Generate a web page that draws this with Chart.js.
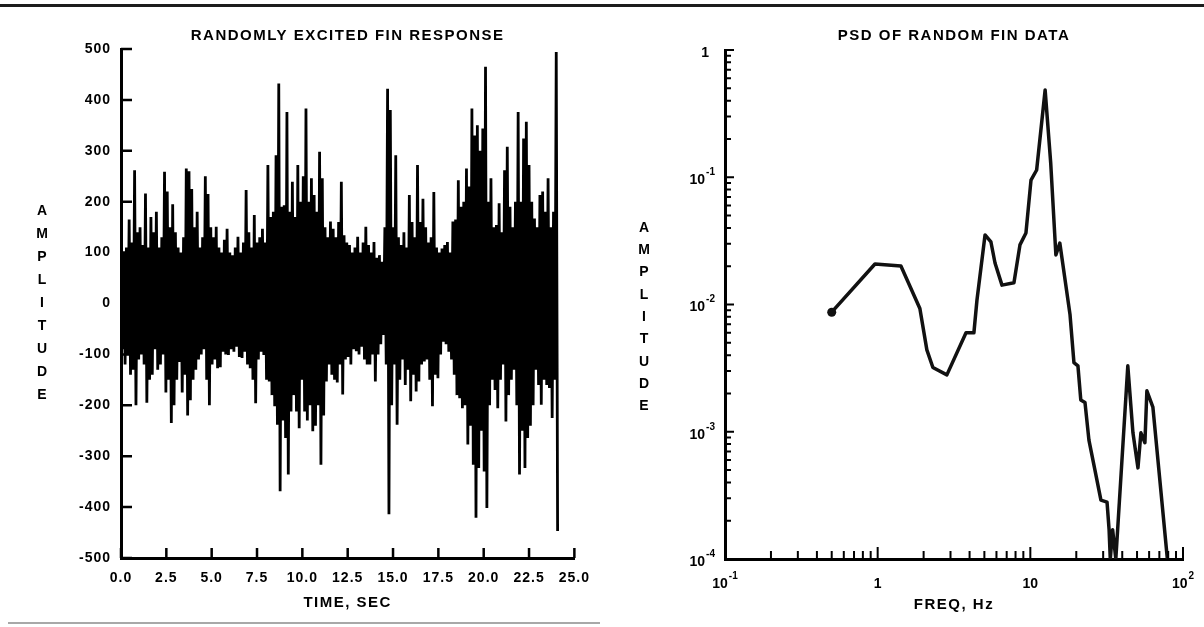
<!DOCTYPE html>
<html>
<head>
<meta charset="utf-8">
<script src="https://cdn.jsdelivr.net/npm/chart.js@4.4.1/dist/chart.umd.min.js"></script>
<style>
  html, body { margin: 0; padding: 0; background: #fff; }
  #wrap { position: relative; width: 1204px; height: 627px; overflow: hidden; }
  canvas { position: absolute; top: 0; }
  #left { left: 0; }
  #right { left: 600px; }
</style>
</head>
<body>
<div id="wrap">
  <canvas id="left" width="600" height="627"></canvas>
  <canvas id="right" width="604" height="627"></canvas>
</div>
<script>
const FONT = '"Liberation Sans", Arial, Helvetica, sans-serif';

// --- left panel: fin response, one peak / trough pair read per column of the trace ---
const respStep = 0.15; // s between read columns
const respHi = [
  180, 100, 110, 165, 120, 262, 140, 150, 115, 216, 110, 170, 140, 180, 110, 130, 259, 220, 150, 195,
  140, 110, 100, 130, 265, 260, 225, 150, 180, 110, 130, 250, 215, 150,
  130, 151, 110, 100, 125, 147, 100, 95, 110, 131, 100, 120, 223, 140, 110, 174, 120, 130, 147, 120,
  272, 170, 180, 291, 432, 190, 193, 376, 180, 239, 170, 272, 200,
  250, 383, 200, 246, 213, 180, 298, 246, 150, 130, 161, 147, 130, 160, 239, 134, 120, 115, 100, 110,
  131, 100, 120, 151, 115, 100, 121, 90, 95, 82, 150, 422, 380,
  150, 291, 130, 115, 140, 110, 213, 160, 130, 272, 160, 206, 150, 120, 130, 219, 110, 100, 108, 115,
  121, 100, 161, 165, 242, 190, 200, 265, 230, 383, 330, 350, 300,
  344, 465, 200, 246, 150, 154, 197, 140, 262, 308, 190, 150, 200, 376, 200, 324, 357, 272, 200, 167,
  150, 213, 220, 180, 246, 150, 180, 494
];
const respLo = [
  -90, -120, -100, -140, -130, -200, -110, -100, -120, -195, -150, -140, -90, -130, -120, -100, -175, -150, -235, -200,
  -150, -115, -175, -140, -220, -190, -150, -130, -110, -100, -90, -150, -200, -120,
  -110, -127, -125, -95, -100, -101, -90, -95, -85, -105, -107, -95, -120, -127, -150, -196, -110, -95, -101, -150,
  -153, -180, -202, -238, -369, -230, -264, -336, -212, -180, -212, -245, -150,
  -212, -230, -200, -251, -240, -200, -317, -220, -153, -120, -140, -150, -155, -120, -179, -110, -105, -120, -90, -94,
  -100, -85, -110, -120, -120, -100, -153, -100, -80, -62, -120, -414, -200,
  -120, -238, -150, -110, -160, -130, -192, -140, -173, -153, -120, -114, -110, -150, -202, -140, -147, -100, -75, -80,
  -95, -110, -140, -180, -186, -206, -200, -277, -240, -317, -421, -323, -250,
  -330, -402, -200, -150, -170, -206, -150, -120, -232, -180, -150, -130, -200, -336, -250, -323, -264, -240, -200, -130,
  -160, -199, -150, -160, -166, -225, -150, -447
];

// --- right panel: PSD ---
const psdFreq = [0.5, 0.96, 1.42, 1.89, 2.1, 2.3, 2.84, 3.79, 4.27, 4.47, 5.05, 5.52, 5.87, 6.52, 7.81, 8.55, 9.36,
  10.1, 11.0, 12.5, 13.6, 14.7, 15.6, 18.2, 19.3, 20.5, 21.4, 22.8, 24.2, 26.5, 29.0, 31.8, 32.8, 33.4, 34.6, 36.3,
  43.5, 47.0, 50.7, 53.0, 56.3, 58.0, 63.5, 79.0];
const psdAmp = [0.0087, 0.0208, 0.0201, 0.0093, 0.0044, 0.0032, 0.0028, 0.006, 0.006, 0.0108, 0.0352, 0.031, 0.0212,
  0.0142, 0.0148, 0.0294, 0.0365, 0.095, 0.114, 0.485, 0.129, 0.0245, 0.0304, 0.0083, 0.0035, 0.0033, 0.00178, 0.0017,
  0.00086, 0.0005, 0.00029, 0.00028, 0.00017, 0.0001, 0.00017, 0.0001, 0.0033, 0.00098, 0.00052, 0.00098, 0.00082,
  0.0021, 0.00156, 0.0001];
const psdYExp = [-4, -3, -2, -1, 0];  // 10^-4 .. 1
const psdXExp = [-1, 0, 1, 2];       // 10^-1 .. 10^2

// zigzag peak -> trough so the dense trace fills in like the plotter did
const respPoints = [];
respHi.forEach((hi, i) => {
  const t = i * respStep;
  respPoints.push({ x: t, y: hi }, { x: t + respStep / 2, y: respLo[i] });
});
const psdPoints = psdFreq.map((f, i) => ({ x: f, y: psdAmp[i] }));

// typewriter-ish spacing on all canvas text
const spacing = {
  id: 'spacing',
  beforeDraw(chart) { chart.ctx.letterSpacing = '1px'; }
};

// titles, stacked AMPLITUDE, page rules
const paper = {
  id: 'paper',
  afterDraw(chart, args, o) {
    const { ctx, chartArea: a } = chart;
    const cx = (a.left + a.right) / 2;
    ctx.save();
    ctx.fillStyle = '#000';
    ctx.textAlign = 'center';
    ctx.textBaseline = 'middle';
    ctx.letterSpacing = '1.5px';
    ctx.font = `bold 15px ${FONT}`;
    ctx.fillText(o.title, cx, 36);
    ctx.fillText(o.xTitle, cx, o.xTitleY);
    ctx.letterSpacing = '0px';
    ctx.font = `bold 14px ${FONT}`;
    [...'AMPLITUDE'].forEach((ch, k) => ctx.fillText(ch, o.yTitleX, o.yTitleTop + k * o.yTitleStep));
    ctx.fillStyle = '#1c1c1c';
    ctx.fillRect(0, 4, chart.width, 3);
    if (o.bottomRule) {
      ctx.fillStyle = '#a8a8a8';
      ctx.fillRect(8, 622, chart.width - 8, 2);
    }
    ctx.restore();
  }
};

// tick marks pointing into the plot
const inwardTicks = {
  id: 'inwardTicks',
  afterDatasetsDraw(chart) {
    const { ctx, scales: { x, y } } = chart;
    ctx.save();
    ctx.strokeStyle = '#000';
    ctx.lineWidth = 2.5;
    ctx.beginPath();
    y.ticks.forEach(t => {
      const p = y.getPixelForValue(t.value);
      ctx.moveTo(x.left, p); ctx.lineTo(x.left + 11, p);
    });
    x.ticks.forEach(t => {
      const p = x.getPixelForValue(t.value);
      ctx.moveTo(p, y.bottom); ctx.lineTo(p, y.bottom - 10);
    });
    ctx.stroke();
    ctx.restore();
  }
};

function powLabel(ctx, e, x, y, align) {
  const base = e === 0 ? '1' : '10';
  const sup = (e === 0 || e === 1) ? '' : String(e);
  ctx.font = `bold 14px ${FONT}`;
  const wb = ctx.measureText(base).width;
  ctx.font = `bold 10px ${FONT}`;
  const ws = sup ? ctx.measureText(sup).width + 1 : 0;
  const x0 = align === 'right' ? x - wb - ws : x - (wb + ws) / 2;
  ctx.textAlign = 'left';
  ctx.textBaseline = 'middle';
  ctx.font = `bold 14px ${FONT}`;
  ctx.fillText(base, x0, y);
  if (sup) {
    ctx.font = `bold 10px ${FONT}`;
    ctx.fillText(sup, x0 + wb + 1, y - 8);
  }
}

// log-log decade / minor ticks and power-of-ten labels
const logAxes = {
  id: 'logAxes',
  afterDatasetsDraw(chart) {
    const { ctx, scales: { x, y } } = chart;
    ctx.save();
    ctx.strokeStyle = '#000';
    ctx.lineWidth = 2;
    ctx.beginPath();
    psdYExp.forEach(e => {
      for (let m = 1; m <= 9; m++) {
        const v = m * Math.pow(10, e);
        if (v > y.max * 1.0001) break;
        const p = y.getPixelForValue(v);
        ctx.moveTo(x.left, p); ctx.lineTo(x.left + (m === 1 ? 9 : 6), p);
      }
    });
    psdXExp.forEach(e => {
      for (let m = 1; m <= 9; m++) {
        const v = m * Math.pow(10, e);
        if (v > x.max * 1.0001) break;
        const p = x.getPixelForValue(v);
        ctx.moveTo(p, y.bottom); ctx.lineTo(p, y.bottom - (m === 1 ? 12 : 8));
      }
    });
    ctx.stroke();
    ctx.letterSpacing = '0px';
    ctx.fillStyle = '#000';
    psdYExp.forEach(e => {
      const p = y.getPixelForValue(Math.pow(10, e));
      powLabel(ctx, e, x.left - (e === 0 ? 16 : 10), p + 3, 'right');
    });
    psdXExp.forEach(e => {
      const p = x.getPixelForValue(Math.pow(10, e));
      powLabel(ctx, e, p, y.bottom + 25, 'center');
    });
    ctx.restore();
  }
};

const tickFont = { family: FONT, size: 14, weight: 'bold' };

new Chart(document.getElementById('left'), {
  type: 'line',
  data: {
    datasets: [{
      data: respPoints,
      borderColor: '#000',
      borderWidth: 2.8,
      pointRadius: 0,
      tension: 0,
    }],
  },
  options: {
    responsive: false,
    animation: false,
    events: [],
    layout: { padding: { top: 49, right: 18, bottom: 0, left: 0 } },
    plugins: {
      legend: { display: false },
      tooltip: { enabled: false },
      paper: {
        title: 'RANDOMLY EXCITED FIN RESPONSE', xTitle: 'TIME, SEC', xTitleY: 603,
        yTitleX: 42, yTitleTop: 211, yTitleStep: 23, bottomRule: true,
      },
    },
    scales: {
      x: {
        type: 'linear', min: 0, max: 25,
        afterFit(s) { s.height = 69; },
        grid: { display: false, drawTicks: false },
        border: { display: true, color: '#000', width: 3 },
        ticks: {
          stepSize: 2.5, autoSkip: false, maxRotation: 0, padding: 12,
          color: '#000', font: tickFont, callback: v => v.toFixed(1),
        },
      },
      y: {
        min: -500, max: 500,
        afterFit(s) { s.width = 121; },
        grid: { display: false, drawTicks: false },
        border: { display: true, color: '#000', width: 3 },
        ticks: { stepSize: 100, padding: 10, color: '#000', font: tickFont, callback: v => String(v) },
      },
    },
  },
  plugins: [spacing, inwardTicks, paper],
});

new Chart(document.getElementById('right'), {
  type: 'scatter',
  data: {
    datasets: [{
      data: psdPoints,
      showLine: true,
      borderColor: '#111',
      borderWidth: 3.5,
      borderJoinStyle: 'round',
      borderCapStyle: 'round',
      tension: 0,
      pointRadius: ctx => (ctx.dataIndex === 0 ? 4.5 : 0),
      pointBackgroundColor: '#111',
      pointBorderWidth: 0,
    }],
  },
  options: {
    responsive: false,
    animation: false,
    events: [],
    layout: { padding: { top: 50, right: 21, bottom: 0, left: 0 } },
    plugins: {
      legend: { display: false },
      tooltip: { enabled: false },
      paper: {
        title: 'PSD OF RANDOM FIN DATA', xTitle: 'FREQ, Hz', xTitleY: 605,
        yTitleX: 44, yTitleTop: 228, yTitleStep: 22.3, bottomRule: false,
      },
    },
    scales: {
      x: {
        type: 'logarithmic', min: 0.1, max: 100,
        afterFit(s) { s.height = 68; },
        grid: { display: false, drawTicks: false },
        border: { display: true, color: '#000', width: 3 },
        ticks: { display: false },
      },
      y: {
        type: 'logarithmic', min: 0.0001, max: 1,
        afterFit(s) { s.width = 125; },
        grid: { display: false, drawTicks: false },
        border: { display: true, color: '#000', width: 3 },
        ticks: { display: false },
      },
    },
  },
  plugins: [spacing, logAxes, paper],
});
</script>
</body>
</html>
